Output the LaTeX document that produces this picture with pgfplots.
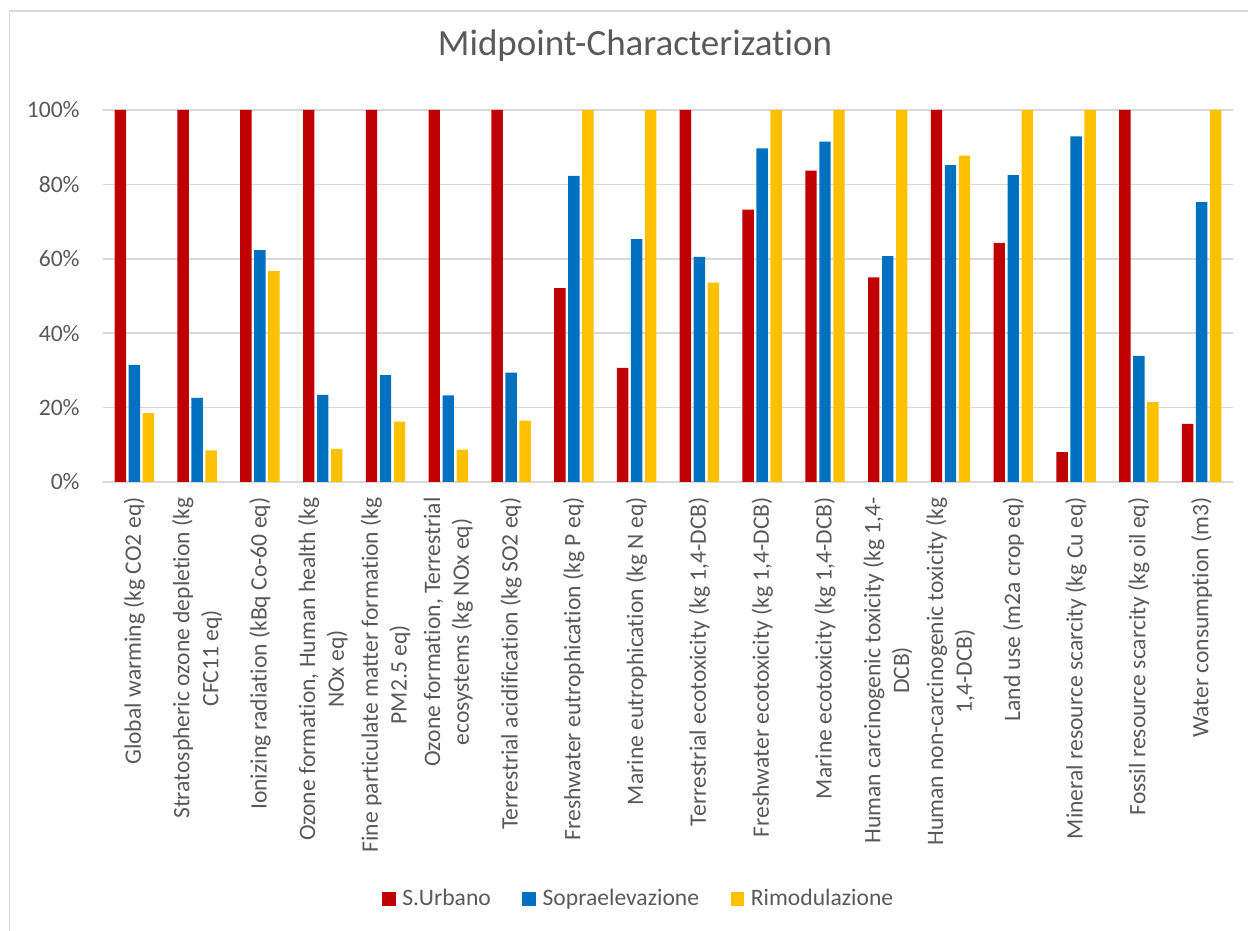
\documentclass[border=0pt]{standalone}
\usepackage{fontspec}
\setmainfont[Ligatures={NoCommon,NoDiscretionary,NoContextual}]{Carlito}
\usepackage{pgfplots}
\pgfplotsset{compat=1.18}
\definecolor{cRed}{HTML}{C00000}
\definecolor{cBlue}{HTML}{0070C0}
\definecolor{cYel}{HTML}{FFC000}
\definecolor{cGrid}{HTML}{D9D9D9}
\definecolor{cText}{HTML}{595959}

\begin{document}
\begin{tikzpicture}
\useasboundingbox (0,0) rectangle (624pt,465.5pt);
% chart frame
\draw[cGrid, line width=0.7pt] (4.75pt,0) -- (4.75pt,460pt) -- (624pt,460pt);
\begin{axis}[
  at={(51.5pt,224.5pt)}, anchor=south west,
  scale only axis, width=565pt, height=186pt,
  ybar=1.3pt, bar width=5.7pt,
  xmin=-0.5, xmax=17.5, ymin=0, ymax=100,
  axis line style={draw=none},
  tick style={draw=none}, major tick length=0pt,
  ymajorgrids, major grid style={draw=cGrid, line width=0.75pt},
  ytick={0,20,40,60,80,100},
  yticklabels={0\%,20\%,40\%,60\%,80\%,100\%},
  yticklabel style={inner sep=0pt, xshift=-11.5pt, anchor=east,
    font=\fontsize{11.8}{14.4}\selectfont, text=cText},
  xtick={0,...,17},
  xticklabels={
    {Global warming (kg CO2 eq)},
    {Stratospheric ozone depletion (kg\\CFC11 eq)},
    {Ionizing radiation (kBq Co-60 eq)},
    {Ozone formation, Human health (kg\\NOx eq)},
    {Fine particulate matter formation (kg\\PM2.5 eq)},
    {Ozone formation, Terrestrial\\ecosystems (kg NOx eq)},
    {Terrestrial acidification (kg SO2 eq)},
    {Freshwater eutrophication (kg P eq)},
    {Marine eutrophication (kg N eq)},
    {Terrestrial ecotoxicity (kg 1,4-DCB)},
    {Freshwater ecotoxicity (kg 1,4-DCB)},
    {Marine ecotoxicity (kg 1,4-DCB)},
    {Human carcinogenic toxicity (kg 1,4-\\DCB)},
    {Human non-carcinogenic toxicity (kg\\1,4-DCB)},
    {Land use (m2a crop eq)},
    {Mineral resource scarcity (kg Cu eq)},
    {Fossil resource scarcity (kg oil eq)},
    {Water consumption (m3)}},
  xticklabel style={yshift=-7.5pt, rotate=90, anchor=east, align=center,
    inner sep=0pt, font=\fontsize{11.8}{14.4}\selectfont, text=cText},
  title={Midpoint-Characterization},
  title style={at={(axis description cs:0.4708,1.1137)}, anchor=base,
    inner sep=0pt, font=\fontsize{18.5}{22}\selectfont, text=cText},
  legend columns=3,
  legend style={draw=none, fill=none, at={(0.4748,-1.121)}, anchor=center,
    font=\fontsize{11.8}{14.4}\selectfont, text=cText,
    nodes={inner xsep=1.8pt, inner ysep=1pt},
    /tikz/column 2/.style={column sep=14pt},
    /tikz/column 4/.style={column sep=14pt}},
]
\addplot[draw=none, fill=cRed,
  legend image code/.code={\fill[cRed] (0pt,-3.3pt) rectangle (6.8pt,3.3pt);}]
  coordinates {(0,100) (1,100) (2,100) (3,100) (4,100) (5,100) (6,100)
    (7,52.1) (8,30.7) (9,100) (10,73.2) (11,83.7) (12,55.0) (13,100)
    (14,64.3) (15,8.0) (16,100) (17,15.6)};
\addplot[draw=none, fill=cBlue,
  legend image code/.code={\fill[cBlue] (0pt,-3.3pt) rectangle (6.8pt,3.3pt);}]
  coordinates {(0,31.5) (1,22.6) (2,62.3) (3,23.4) (4,28.7) (5,23.3) (6,29.4)
    (7,82.3) (8,65.3) (9,60.5) (10,89.7) (11,91.5) (12,60.7) (13,85.2)
    (14,82.5) (15,92.9) (16,33.9) (17,75.2)};
\addplot[draw=none, fill=cYel,
  legend image code/.code={\fill[cYel] (0pt,-3.3pt) rectangle (6.8pt,3.3pt);}]
  coordinates {(0,18.5) (1,8.5) (2,56.7) (3,8.9) (4,16.2) (5,8.7) (6,16.5)
    (7,100) (8,100) (9,53.6) (10,100) (11,100) (12,100) (13,87.7)
    (14,100) (15,100) (16,21.5) (17,100)};
\legend{\hspace{1.5pt}S.Urbano, \hspace{1.5pt}Sopraelevazione, \hspace{1.5pt}Rimodulazione}
\end{axis}
\end{tikzpicture}
\end{document}
